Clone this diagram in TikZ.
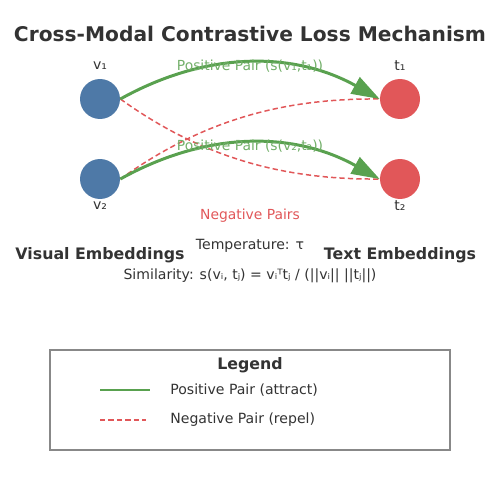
\documentclass[tikz,border=0pt]{standalone}
\usepackage{fontspec}
\setmainfont{DejaVu Sans}
\usetikzlibrary{arrows.meta}
\definecolor{visblue}{HTML}{4E79A7}
\definecolor{txtred}{HTML}{E15759}
\definecolor{posgreen}{HTML}{59A14F}
\definecolor{darktext}{HTML}{333333}
\definecolor{boxgray}{HTML}{888888}
\begin{document}
\begin{tikzpicture}[x=0.02cm, y=-0.02cm,
    visual_style/.style={circle,fill=visblue,minimum size=0.8cm,inner sep=0pt},
    text_style/.style={circle,fill=txtred,minimum size=0.8cm,inner sep=0pt},
    label_style/.style={text=darktext,font=\fontsize{8}{9.5}\selectfont,inner sep=0pt},
    pos_edge_style/.style={draw=posgreen,line width=1.7pt,-{Triangle[length=16pt,width=10.5pt]}},
    neg_edge_style/.style={draw=txtred,line width=0.85pt,dash pattern=on 3pt off 1.8pt},
    pos_text_style/.style={text=posgreen!85!white,font=\fontsize{7.9}{9}\selectfont,inner sep=0pt},
    bold_style/.style={text=darktext,font=\bfseries\fontsize{9}{11}\selectfont,inner sep=0pt}]
  \useasboundingbox (0,0) rectangle (500,500);
  \node[text=darktext,font=\bfseries\fontsize{11.5}{13}\selectfont] (title) at (250,34) {Cross-Modal Contrastive Loss Mechanism};
  \draw
    (100,99) node[visual_style] (v1){}
    (100,179) node[visual_style] (v2){}
    (400,99) node[text_style] (t1){}
    (400,179) node[text_style] (t2){};
  % similarity edges
  \begin{scope}
    \draw[neg_edge_style] (v1.east) .. controls (200,156) and (280,180) .. (t2.west);
    \draw[neg_edge_style] (v2.east) .. controls (200,122) and (280,98) .. (t1.west);
    \draw[pos_edge_style] (v1.east) .. controls (206.7,51) and (293.3,51) .. (t1.west);
    \draw[pos_edge_style] (v2.east) .. controls (206.7,131) and (293.3,131) .. (t2.west);
  \end{scope}
  \node[label_style] (v1lab) at (100,66) {v₁};
  \node[label_style] (t1lab) at (400,66) {t₁};
  \node[label_style] (v2lab) at (100,206) {v₂};
  \node[label_style] (t2lab) at (400,206) {t₂};
  \node[pos_text_style] (pos1) at (250,66) {Positive Pair (s(v₁,t₁))};
  \node[pos_text_style] (pos2) at (250,146) {Positive Pair (s(v₂,t₂))};
  \node[pos_text_style,text=txtred] (neg) at (250,216) {Negative Pairs};
  \node[label_style] (temp) at (250,246) {Temperature: τ};
  \node[bold_style] (vis) at (100,255) {Visual Embeddings};
  \node[bold_style] (txt) at (400,255) {Text Embeddings};
  \node[label_style] (sim) at (250,276) {Similarity: s(vᵢ, tⱼ) = vᵢᵀtⱼ / (||vᵢ|| ||tⱼ||)};
  % legend
  \draw[boxgray,line width=0.6pt] (50,350) rectangle (450,450);
  \node[bold_style] (leg) at (250,365) {Legend};
  \coordinate (ps) at (100,390);
  \coordinate (pe) at (150,390);
  \coordinate (ns) at (100,420);
  \coordinate (ne) at (146,420);
  \draw[posgreen,line width=1.7pt] (ps) -- (pe);
  \draw[neg_edge_style] (ns) -- (ne);
  \node[label_style,anchor=west] (posleg) at (170,390) {Positive Pair (attract)};
  \node[label_style,anchor=west] (negleg) at (170,420) {Negative Pair (repel)};
\end{tikzpicture}
\end{document}
